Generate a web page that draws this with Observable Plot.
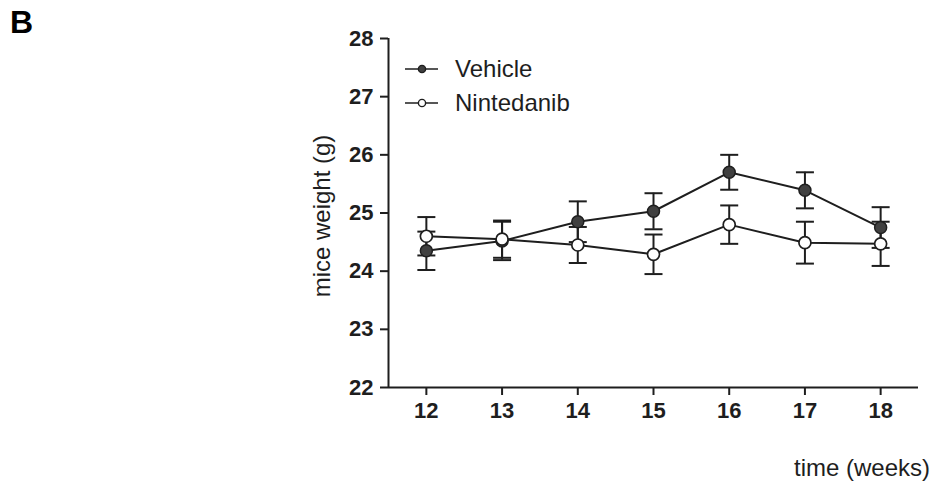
<!DOCTYPE html>
<html><head><meta charset="utf-8">
<script src="https://cdn.jsdelivr.net/npm/d3@7"></script>
<script src="https://cdn.jsdelivr.net/npm/@observablehq/plot@0.6"></script>
<style>body{margin:0;background:#fff}</style>
</head><body><div id="chart"></div>
<script>
const weeks = [12, 13, 14, 15, 16, 17, 18];
const seriesNames = ["Vehicle", "Nintedanib"];
const vehicleMean = [24.35, 24.52, 24.85, 25.03, 25.70, 25.39, 24.75];
const vehicleSem = [0.33, 0.33, 0.35, 0.31, 0.30, 0.31, 0.35];
const nintedanibMean = [24.60, 24.55, 24.45, 24.29, 24.80, 24.49, 24.47];
const nintedanibSem = [0.33, 0.32, 0.31, 0.34, 0.33, 0.36, 0.38];
const xTicks = [12, 13, 14, 15, 16, 17, 18];
const yTicks = [22, 23, 24, 25, 26, 27, 28];
const xDomain = [11.5, 18.5];
const yDomain = [22, 28];
const xLabel = "time (weeks)";
const yLabel = "mice weight (g)";
const panelLetter = "B";

const rows = [];
weeks.forEach((w, i) => {
  rows.push({series: "Vehicle", week: w, mean: vehicleMean[i], sem: vehicleSem[i]});
  rows.push({series: "Nintedanib", week: w, mean: nintedanibMean[i], sem: nintedanibSem[i]});
});

const ink = "#1e1e1e";
const font = "'Liberation Sans', Arial, sans-serif";
const capSymbol = {draw(ctx) { ctx.moveTo(-9, 0); ctx.lineTo(9, 0); }};
const sw = 2;

const plot = Plot.plot({
  width: 932, height: 486,
  marginLeft: 388, marginRight: 14, marginTop: 38, marginBottom: 99,
  style: {fontFamily: font, background: "white", color: ink},
  x: {domain: xDomain},
  y: {domain: yDomain},
  marks: [
    Plot.axisY({ticks: yTicks, tickFormat: "d", tickSize: 8, tickPadding: 7, fontSize: 22, fontWeight: "bold", label: null, strokeWidth: sw}),
    Plot.axisX({ticks: xTicks, tickFormat: "d", tickSize: 8, tickPadding: 7, fontSize: 22, fontWeight: "bold", label: null, strokeWidth: sw}),
    Plot.ruleX([xDomain[0]], {stroke: ink, strokeWidth: sw}),
    Plot.ruleY([yDomain[0]], {stroke: ink, strokeWidth: sw}),
    Plot.ruleX(rows, {x: "week", y1: d => d.mean - d.sem, y2: d => d.mean + d.sem, stroke: ink, strokeWidth: sw}),
    Plot.dot(rows, {x: "week", y: d => d.mean + d.sem, symbol: capSymbol, r: 3, stroke: ink, strokeWidth: sw, fill: "none"}),
    Plot.dot(rows, {x: "week", y: d => d.mean - d.sem, symbol: capSymbol, r: 3, stroke: ink, strokeWidth: sw, fill: "none"}),
    Plot.line(rows, {x: "week", y: "mean", z: "series", stroke: ink, strokeWidth: sw}),
    Plot.dot(rows, {filter: d => d.series === "Vehicle", x: "week", y: "mean", r: 6, fill: "#404040", stroke: ink, strokeWidth: 1.5}),
    Plot.dot(rows, {filter: d => d.series === "Nintedanib", x: "week", y: "mean", r: 6, fill: "white", stroke: ink, strokeWidth: 1.7})
  ]
});

const svg = d3.select(plot);
// panel letter
svg.append("text").attr("x", 10).attr("y", 33).attr("text-anchor", "start").attr("font-size", 32).attr("font-weight", "bold")
  .attr("font-family", font).attr("fill", "#000").text(panelLetter);
// y label
svg.append("text").attr("transform", "translate(330,216) rotate(-90)").attr("text-anchor", "middle")
  .attr("font-size", 24).attr("font-family", font).attr("fill", ink).text(yLabel);
// x label
svg.append("text").attr("x", 930).attr("y", 476).attr("text-anchor", "end")
  .attr("font-size", 24).attr("font-family", font).attr("fill", ink).text(xLabel);
// legend
const legendY = [69, 103];
seriesNames.forEach((name, i) => {
  const g = svg.append("g").attr("transform", `translate(0,${legendY[i]})`);
  g.append("line").attr("x1", 405).attr("x2", 438).attr("y1", 0).attr("y2", 0).attr("stroke", ink).attr("stroke-width", 1.6);
  g.append("circle").attr("cx", 422).attr("cy", 0).attr("r", 3.6)
    .attr("fill", i === 0 ? "#404040" : "white").attr("stroke", ink).attr("stroke-width", 1.4);
  g.append("text").attr("x", 455).attr("y", 8).attr("text-anchor", "start").attr("font-size", 24).attr("font-family", font).attr("fill", ink).text(name);
});

document.getElementById("chart").appendChild(plot);
</script>
</body></html>
